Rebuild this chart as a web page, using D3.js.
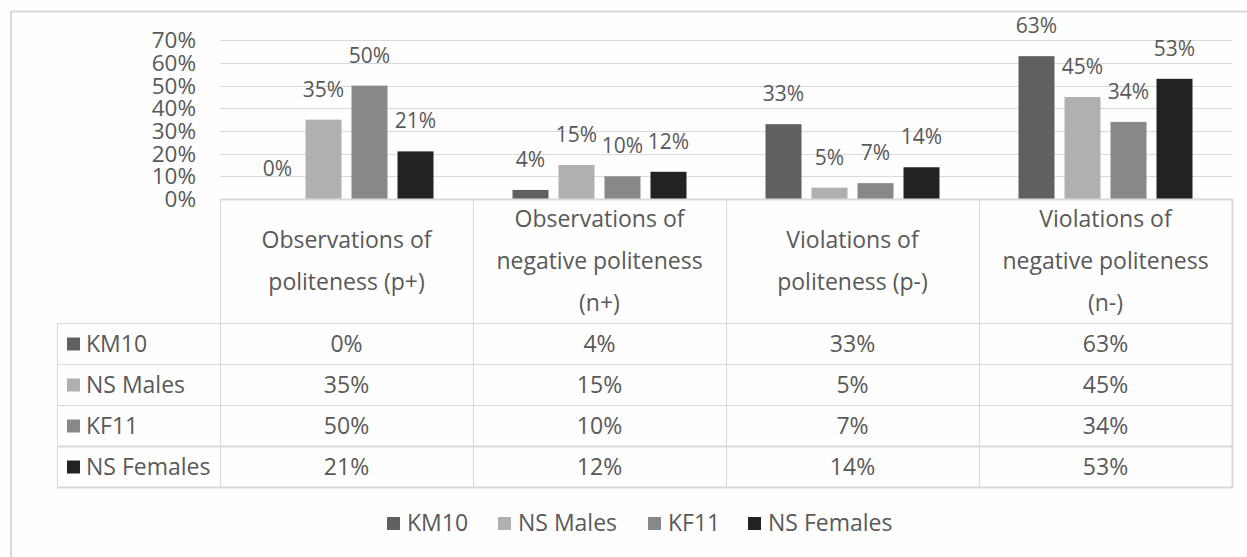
<!DOCTYPE html>
<html><head><meta charset="utf-8">
<script src="https://cdn.jsdelivr.net/npm/d3@7"></script>
<style>
html,body{margin:0;padding:0;background:#fff;}
svg{display:block;}
text{font-family:"Open Sans",sans-serif;fill:#595959;}
</style></head>
<body>
<svg id="chart" width="1247" height="557"></svg>
<script>
const categories = ["Observations of politeness (p+)", "Observations of negative politeness (n+)", "Violations of politeness (p-)", "Violations of negative politeness (n-)"];
const categoryLines = [["Observations of", "politeness (p+)"], ["Observations of", "negative politeness", "(n+)"], ["Violations of", "politeness (p-)"], ["Violations of", "negative politeness", "(n-)"]];
const seriesNames = ["KM10", "NS Males", "KF11", "NS Females"];
const seriesColors = ["#606060", "#b0b0b0", "#888888", "#222222"];
const km10 = [0, 4, 33, 63];
const nsMales = [35, 15, 5, 45];
const kf11 = [50, 10, 7, 34];
const nsFemales = [21, 12, 14, 53];
const yTicks = [0, 10, 20, 30, 40, 50, 60, 70];

(function () {
const seriesValues = [km10, nsMales, kf11, nsFemales];
const svg = d3.select("#chart");

// frame
svg.append("rect").attr("x", 0).attr("y", 0).attr("width", 1247).attr("height", 557).attr("fill", "#fefefe");
svg.append("rect").attr("x", 11).attr("y", 11.5).attr("width", 1260).attr("height", 600)
  .attr("fill", "none").attr("stroke", "#d9d9d9").attr("stroke-width", 2);

const pLeft = 220, pRight = 1232, pTop = 40.3, pBottom = 199;
const x0 = d3.scaleBand().domain(categories).range([pLeft, pRight]).padding(0);
const pi = 10 / 46;
const po = ((x0.bandwidth() / 46) - 4 + pi) / 2;
const x1 = d3.scaleBand().domain(seriesNames).range([0, x0.bandwidth()]).paddingInner(pi).paddingOuter(po);
const y = d3.scaleLinear().domain([0, 70]).range([pBottom, pTop]);

// gridlines
svg.append("g").selectAll("line").data(yTicks.filter(d => d > 0)).join("line")
  .attr("x1", pLeft).attr("x2", pRight)
  .attr("y1", d => Math.round(y(d)) + 0.5).attr("y2", d => Math.round(y(d)) + 0.5)
  .attr("stroke", "#d9d9d9").attr("stroke-width", 1);

// y axis
const yAxis = d3.axisLeft(y).tickValues(yTicks).tickFormat(d => d + "%").tickSize(0).tickPadding(24);
const ga = svg.append("g").attr("transform", `translate(${pLeft},0)`).call(yAxis);
ga.select(".domain").remove();
ga.selectAll("text").attr("font-family", "Open Sans").attr("font-size", 22.5).attr("fill", "#595959").attr("dy", "0.34em");

// bars
const groups = svg.append("g").selectAll("g").data(categories).join("g")
  .attr("transform", d => `translate(${x0(d)},0)`);
groups.selectAll("rect").data((c, ci) => seriesNames.map((s, si) => ({s, si, v: seriesValues[si][ci]})))
  .join("rect")
  .attr("x", d => x1(d.s)).attr("width", x1.bandwidth())
  .attr("y", d => y(d.v)).attr("height", d => pBottom - y(d.v))
  .attr("fill", d => seriesColors[d.si]);
groups.selectAll("text").data((c, ci) => seriesNames.map((s, si) => ({s, si, v: seriesValues[si][ci]})))
  .join("text")
  .attr("x", d => x1(d.s) + x1.bandwidth() / 2)
  .attr("y", d => y(d.v) - 23)
  .attr("text-anchor", "middle").attr("font-size", 21)
  .text(d => d.v + "%");

// table
const tableLeft = 57;
const headerTop = 199, headerBottom = 323;
const rowEdges = [323, 364, 405, 446, 487];
const tg = svg.append("g");
const stroke = "#d9d9d9";
tg.append("line").attr("x1", pLeft).attr("x2", pRight).attr("y1", headerTop + 0.5).attr("y2", headerTop + 0.5).attr("stroke", stroke).attr("stroke-width", 2);
rowEdges.forEach((ry, i) => {
  const w = (i === 3 || i === 4) ? 2 : 1;
  tg.append("line").attr("x1", tableLeft).attr("x2", pRight).attr("y1", ry + 0.5).attr("y2", ry + 0.5).attr("stroke", stroke).attr("stroke-width", w);
});
tg.append("line").attr("x1", tableLeft + 0.5).attr("x2", tableLeft + 0.5).attr("y1", rowEdges[0]).attr("y2", rowEdges[4]).attr("stroke", stroke);
const colEdges = categories.map(c => x0(c)).concat([pRight]);
colEdges.forEach((cx, i) => {
  tg.append("line").attr("x1", Math.round(cx) + 0.5).attr("x2", Math.round(cx) + 0.5)
    .attr("y1", headerTop).attr("y2", rowEdges[4] + 1)
    .attr("stroke", stroke).attr("stroke-width", i === colEdges.length - 1 ? 2 : 1);
});
categories.forEach((c, ci) => {
  const lines = categoryLines[ci];
  const cx = x0(c) + x0.bandwidth() / 2;
  const mid = (headerTop + headerBottom) / 2;
  lines.forEach((ln, li) => {
    const cy = mid + (li - (lines.length - 1) / 2) * 42;
    tg.append("text").attr("x", cx).attr("y", cy + 8.2).attr("text-anchor", "middle").attr("font-size", 23).text(ln);
  });
});
seriesNames.forEach((s, si) => {
  const cy = (rowEdges[si] + rowEdges[si + 1]) / 2 + 0.5;
  tg.append("rect").attr("x", 67).attr("y", cy - 6.5).attr("width", 13).attr("height", 13).attr("fill", seriesColors[si]);
  tg.append("text").attr("x", 86).attr("y", cy + 8.2).attr("font-size", 23).text(s);
  categories.forEach((c, ci) => {
    tg.append("text").attr("x", x0(c) + x0.bandwidth() / 2).attr("y", cy + 8.2).attr("text-anchor", "middle").attr("font-size", 23)
      .text(seriesValues[si][ci] + "%");
  });
});

// legend
const legendX = [387, 498, 648, 748];
const lg = svg.append("g");
seriesNames.forEach((s, si) => {
  lg.append("rect").attr("x", legendX[si]).attr("y", 517).attr("width", 13).attr("height", 13).attr("fill", seriesColors[si]);
  lg.append("text").attr("x", legendX[si] + 20).attr("y", 530.5).attr("font-size", 23).text(s);
});
})();
</script>
</body></html>
